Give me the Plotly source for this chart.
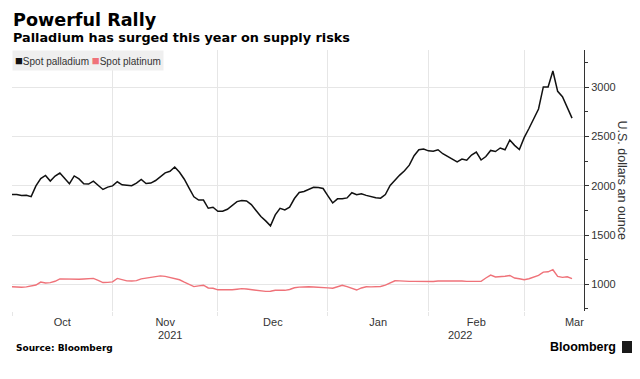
import plotly.graph_objects as go
import pandas as pd

# ---------------- data ----------------
title_text = "Powerful Rally"
subtitle_text = "Palladium has surged this year on supply risks"
source_text = "Source: Bloomberg"
y_axis_title = "U.S. dollars an ounce"
series_names = ["Spot palladium", "Spot platinum"]

dates = pd.bdate_range("2021-10-01", periods=118)

palladium = [
    1912, 1912, 1901, 1904, 1890, 1999, 2074, 2105, 2048, 2099,
    2130, 2076, 2021, 2100, 2070, 2021, 2018, 2048, 2004, 1963,
    1987, 1999, 2041, 2010, 2006, 2001, 2028, 2064, 2023, 2028,
    2054, 2093, 2132, 2147, 2191, 2138, 2067, 1977, 1889, 1855,
    1855, 1772, 1782, 1742, 1742, 1762, 1799, 1840, 1851, 1846,
    1809, 1752, 1688, 1644, 1594, 1705, 1772, 1756, 1783, 1871,
    1932, 1942, 1966, 1985, 1982, 1973, 1898, 1826, 1868, 1868,
    1877, 1930, 1909, 1920, 1903, 1888, 1878, 1875, 1911, 2003,
    2057, 2109, 2153, 2210, 2306, 2366, 2373, 2355, 2352, 2366,
    2326, 2297, 2269, 2244, 2271, 2260, 2313, 2342, 2262, 2297,
    2359, 2348, 2384, 2366, 2465, 2411, 2369, 2489, 2582, 2681,
    2780, 3004, 3003, 3166, 2959, 2904, 2793, 2687,
]

platinum = [
    975, 971, 970, 974, 986, 993, 1023, 1013, 1017, 1031,
    1055, 1053, 1048, 1049, 1051, 1054, 1054, 1060, 1041, 1018,
    1020, 1025, 1060, 1044, 1035, 1033, 1037, 1055, 1062, 1072,
    1083, 1086, 1081, 1069, 1057, 1046, 1022, 997, 977, 984,
    991, 963, 960, 944, 942, 942, 945, 950, 956, 952,
    945, 939, 933, 928, 929, 940, 939, 939, 947, 965,
    971, 976, 975, 973, 972, 970, 964, 960, 975, 990,
    976, 962, 942, 963, 975, 974, 974, 978, 991, 1011,
    1036, 1035, 1030, 1030, 1030, 1030, 1023, 1023, 1029, 1033,
    1034, 1031, 1030, 1034, 1033, 1030, 1030, 1030, 1031, 1064,
    1093, 1074, 1076, 1082, 1090, 1064, 1057, 1047, 1057, 1070,
    1091, 1124, 1127, 1148, 1081, 1071, 1077, 1057,
]

month_label_vals = ["2021-10-15 12:00", "2021-11-16", "2021-12-16 12:00",
                    "2022-01-17 12:00", "2022-02-15", "2022-03-15 12:00"]
month_label_text = ["Oct", "Nov", "Dec", "Jan", "Feb", "Mar"]
month_starts = ["2021-10-01", "2021-11-01", "2021-12-01",
                "2022-01-03", "2022-02-01", "2022-03-01"]
year_labels = ["2021", "2022"]
year_label_x = ["2021-11-17", "2022-02-09 12:00"]
y_tick_vals = [1000, 1500, 2000, 2500, 3000]
x_range = ["2021-10-01", "2022-03-17 12:00"]
y_range = [729, 3379]

colors = ["#111111", "#ef7279"]

# ---------------- layout helpers ----------------
# the page body adds an 8px margin, so the figure is 8px smaller than the window
OFF = 8
W, H = 640 - OFF, 379 - OFF
L, R, T, B = 12 - OFF, 56, 50 - OFF, 68
PW, PH = W - L - R, H - T - B


def px(x):  # page pixel -> paper x
    return (x - OFF - L) / PW


def py(y):  # page pixel -> paper y
    return (H - B - (y - OFF)) / PH


SANS = "Liberation Sans, Arial, sans-serif"
BOLD = "DejaVu Sans, Verdana, sans-serif"

fig = go.Figure()
fig.add_trace(go.Scatter(x=dates, y=palladium, mode="lines", name=series_names[0],
                         line=dict(color=colors[0], width=1.5), showlegend=False))
fig.add_trace(go.Scatter(x=dates, y=platinum, mode="lines", name=series_names[1],
                         line=dict(color=colors[1], width=1.4), showlegend=False))

square = "<span style='color:{c};font-size:13px'>■</span>"
annotations = [
    dict(text="<b>" + title_text + "</b>", x=px(11), y=py(20), xanchor="left", yanchor="middle",
         font=dict(family=BOLD, size=17.6, color="#000000")),
    dict(text="<b>" + subtitle_text + "</b>", x=px(11), y=py(37), xanchor="left", yanchor="middle",
         font=dict(family=BOLD, size=12.8, color="#000000")),
    dict(text=(square.format(c=colors[0]) + series_names[0] + " "
               + square.format(c=colors[1]) + series_names[1]),
         x=0, y=1, xanchor="left", yanchor="top", bgcolor="#efefef", borderpad=2,
         font=dict(family=SANS, size=10, color="#333333")),
    dict(text=y_axis_title, x=px(622), y=py(180.5), xanchor="center", yanchor="middle",
         textangle=90, font=dict(family=SANS, size=12.5, color="#333333")),
    dict(text="<b>" + source_text + "</b>", x=px(14), y=py(348), xanchor="left", yanchor="middle",
         font=dict(family=BOLD, size=9, color="#000000")),
    dict(text="<b>Bloomberg</b>", x=px(618), y=py(347), xanchor="right", yanchor="middle",
         font=dict(family=SANS, size=12.5, color="#000000")),
]
for lab, xv in zip(year_labels, year_label_x):
    annotations.append(dict(text=lab, x=xv, xref="x", y=py(335), yref="paper",
                            xanchor="center", yanchor="middle", showarrow=False,
                            font=dict(family=SANS, size=11, color="#333333")))
for a in annotations:
    a.setdefault("xref", "paper")
    a.setdefault("yref", "paper")
    a.setdefault("showarrow", False)

fig.update_layout(
    width=W, height=H,
    margin=dict(l=L, r=R, t=T, b=B, pad=0),
    paper_bgcolor="white", plot_bgcolor="white",
    showlegend=False,
    annotations=annotations,
    shapes=[dict(type="rect", xref="paper", yref="paper",
                 x0=px(622), x1=px(632), y0=py(353), y1=py(341),
                 fillcolor="#1a1a1a", line=dict(width=0))],
    xaxis=dict(
        type="date", range=x_range,
        rangebreaks=[dict(bounds=["sat", "mon"])],
        tickmode="array", tickvals=month_label_vals, ticktext=month_label_text,
        ticks="", showgrid=False, zeroline=False, showline=False,
        ticklabelstandoff=3,
        tickfont=dict(family=SANS, size=11, color="#333333"),
        minor=dict(tickmode="array", tickvals=month_starts, showgrid=True,
                   gridcolor="#e6e6e6", gridwidth=1, ticks="outside", ticklen=4,
                   tickcolor="#e6e6e6"),
    ),
    yaxis=dict(
        side="right", range=y_range,
        tickmode="array", tickvals=y_tick_vals,
        showgrid=True, gridcolor="#e6e6e6", gridwidth=1, zeroline=False,
        showline=True, linecolor="#333333", linewidth=1,
        ticks="outside", ticklen=4, tickcolor="#333333",
        tickfont=dict(family=SANS, size=11, color="#333333"),
        minor=dict(dtick=250, tick0=0, ticks="outside", ticklen=3, tickcolor="#333333",
                   showgrid=False),
    ),
)

fig.write_html("out.html")
